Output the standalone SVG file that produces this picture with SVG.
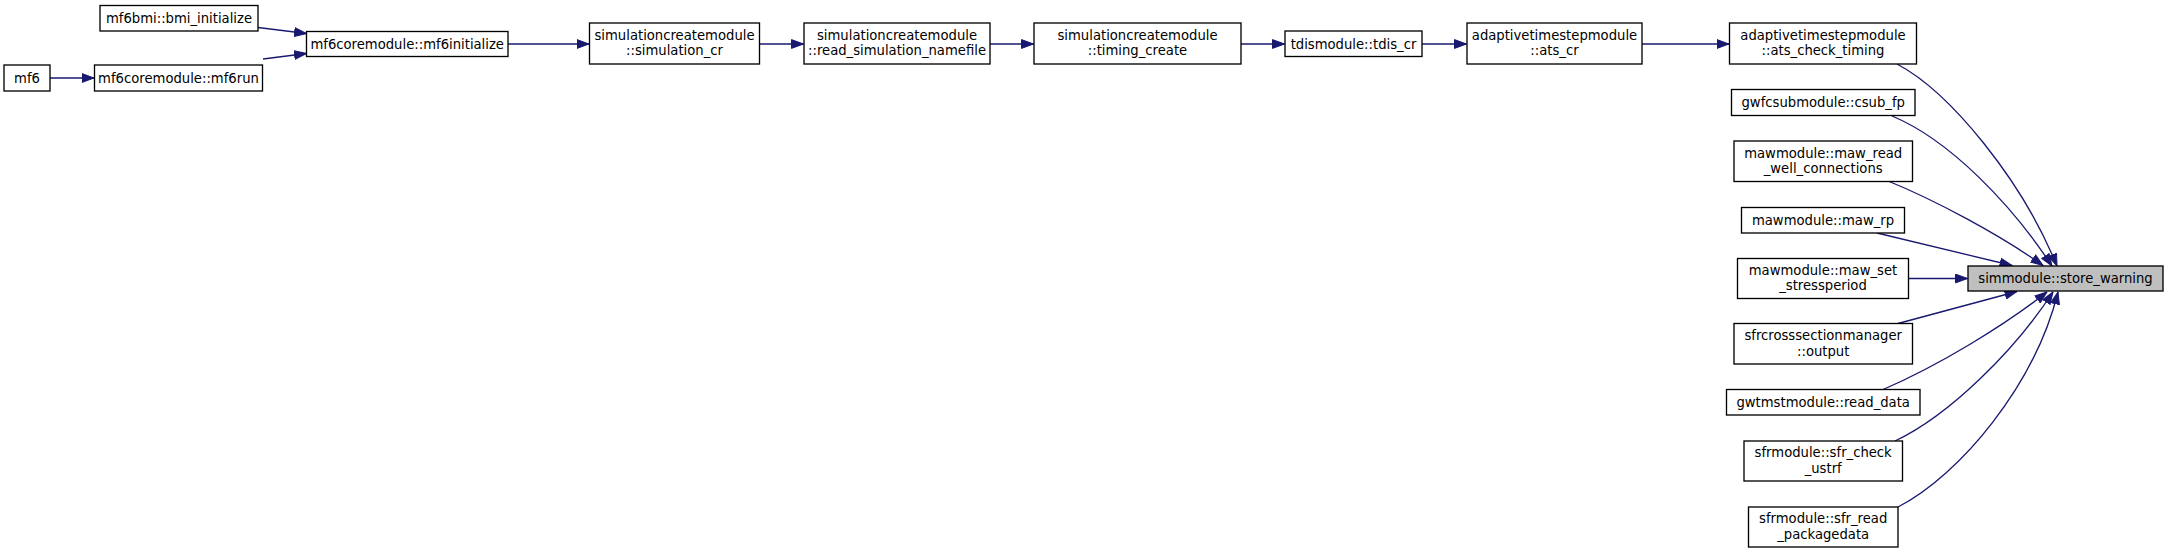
<svg xmlns="http://www.w3.org/2000/svg" width="2168" height="553" viewBox="0 0 2168 553">
<style>
.n rect{fill:#ffffff;stroke:#000000;stroke-width:1.33}
.n.h rect{fill:#bfbfbf}
.n text{font-family:"DejaVu Sans","Liberation Sans",sans-serif;font-size:13.2px;text-anchor:middle;fill:#000000}
#edges path{fill:none;stroke:#191970;stroke-width:1.33;marker-end:url(#ah)}
</style>
<defs>
<marker id="ah" markerUnits="userSpaceOnUse" viewBox="0 0 13 10" refX="12.5" refY="5" markerWidth="13" markerHeight="10" orient="auto">
<path d="M0.5,0.6 L12.5,5 L0.5,9.4 Z" fill="#191970" stroke="#191970" stroke-width="1"/>
</marker>
</defs>
<rect x="0" y="0" width="2168" height="553" fill="#ffffff"/>
<g id="edges">
<path d="M50,78 L94,78"/>
<path d="M258,27.5 L306.5,33.5"/>
<path d="M263,59 L306.5,53.5"/>
<path d="M508,44 L589,44"/>
<path d="M759.5,44 L803.5,44"/>
<path d="M990,44 L1033.5,44"/>
<path d="M1241,44 L1284.5,44"/>
<path d="M1422,44 L1466.5,44"/>
<path d="M1642,44 L1729,44"/>
<path d="M1897,64 C1950,92 2022,180 2057,266"/>
<path d="M1892,116 C1950,140 2012,205 2052,266"/>
<path d="M1888,181 C1935,200 2000,235 2043,265.5"/>
<path d="M1877,233 L2012,265.5"/>
<path d="M1909,278.5 L1967.5,278.5"/>
<path d="M1898,323.5 L2017,291.5"/>
<path d="M1882,390 C1940,365 2005,325 2047,292"/>
<path d="M1895,441 C1950,415 2015,350 2053,292"/>
<path d="M1898,507 C1960,475 2035,385 2058,292"/>
</g>
<g id="mf6bmi_bmi_initialize" class="n"><rect x="100" y="5.5" width="158" height="25.5"/><text x="179" y="23">mf6bmi::bmi_initialize</text></g>
<g id="mf6coremodule_mf6initialize" class="n"><rect x="306.5" y="31.5" width="201.5" height="25"/><text x="407.2" y="48.7">mf6coremodule::mf6initialize</text></g>
<g id="mf6" class="n"><rect x="4" y="65" width="46" height="26"/><text x="27" y="82.7">mf6</text></g>
<g id="mf6coremodule_mf6run" class="n"><rect x="94.5" y="65" width="168" height="26"/><text x="178.5" y="82.7">mf6coremodule::mf6run</text></g>
<g id="simulationcreatemodule_simulation_cr" class="n"><rect x="589.5" y="23" width="170" height="41"/><text x="674.5" y="39.5">simulationcreatemodule</text><text x="674.5" y="55">::simulation_cr</text></g>
<g id="simulationcreatemodule_read_simulation_namefile" class="n"><rect x="804" y="23" width="186" height="41"/><text x="897" y="39.5">simulationcreatemodule</text><text x="897" y="55">::read_simulation_namefile</text></g>
<g id="simulationcreatemodule_timing_create" class="n"><rect x="1034" y="23" width="207" height="41"/><text x="1137.5" y="39.5">simulationcreatemodule</text><text x="1137.5" y="55">::timing_create</text></g>
<g id="tdismodule_tdis_cr" class="n"><rect x="1285" y="31" width="137" height="25.5"/><text x="1353.5" y="48.5">tdismodule::tdis_cr</text></g>
<g id="adaptivetimestepmodule_ats_cr" class="n"><rect x="1467" y="23" width="175" height="41"/><text x="1554.5" y="39.5">adaptivetimestepmodule</text><text x="1554.5" y="55">::ats_cr</text></g>
<g id="adaptivetimestepmodule_ats_check_timing" class="n"><rect x="1729.5" y="23" width="187" height="41"/><text x="1823" y="39.5">adaptivetimestepmodule</text><text x="1823" y="55">::ats_check_timing</text></g>
<g id="gwfcsubmodule_csub_fp" class="n"><rect x="1731.5" y="89.5" width="183.5" height="26"/><text x="1823.2" y="107.2">gwfcsubmodule::csub_fp</text></g>
<g id="mawmodule_maw_read_well_connections" class="n"><rect x="1734" y="141" width="178.5" height="40.5"/><text x="1823.2" y="157.5">mawmodule::maw_read</text><text x="1823.2" y="173">_well_connections</text></g>
<g id="mawmodule_maw_rp" class="n"><rect x="1741.5" y="207.5" width="163" height="25.5"/><text x="1823" y="225">mawmodule::maw_rp</text></g>
<g id="mawmodule_maw_set_stressperiod" class="n"><rect x="1737.5" y="258.5" width="171" height="40"/><text x="1823" y="274.7">mawmodule::maw_set</text><text x="1823" y="290.2">_stressperiod</text></g>
<g id="simmodule_store_warning" class="n h"><rect x="1968" y="266" width="195" height="25"/><text x="2065.5" y="283">simmodule::store_warning</text></g>
<g id="sfrcrosssectionmanager_output" class="n"><rect x="1734" y="323.5" width="178.5" height="40.5"/><text x="1823.2" y="340">sfrcrosssectionmanager</text><text x="1823.2" y="355.5">::output</text></g>
<g id="gwtmstmodule_read_data" class="n"><rect x="1726.5" y="389.5" width="193.5" height="25.5"/><text x="1823.2" y="407">gwtmstmodule::read_data</text></g>
<g id="sfrmodule_sfr_check_ustrf" class="n"><rect x="1744" y="441" width="158.5" height="40"/><text x="1823.2" y="457.2">sfrmodule::sfr_check</text><text x="1823.2" y="472.7">_ustrf</text></g>
<g id="sfrmodule_sfr_read_packagedata" class="n"><rect x="1748.5" y="507" width="149.5" height="40"/><text x="1823.2" y="523.2">sfrmodule::sfr_read</text><text x="1823.2" y="538.7">_packagedata</text></g>
</svg>
